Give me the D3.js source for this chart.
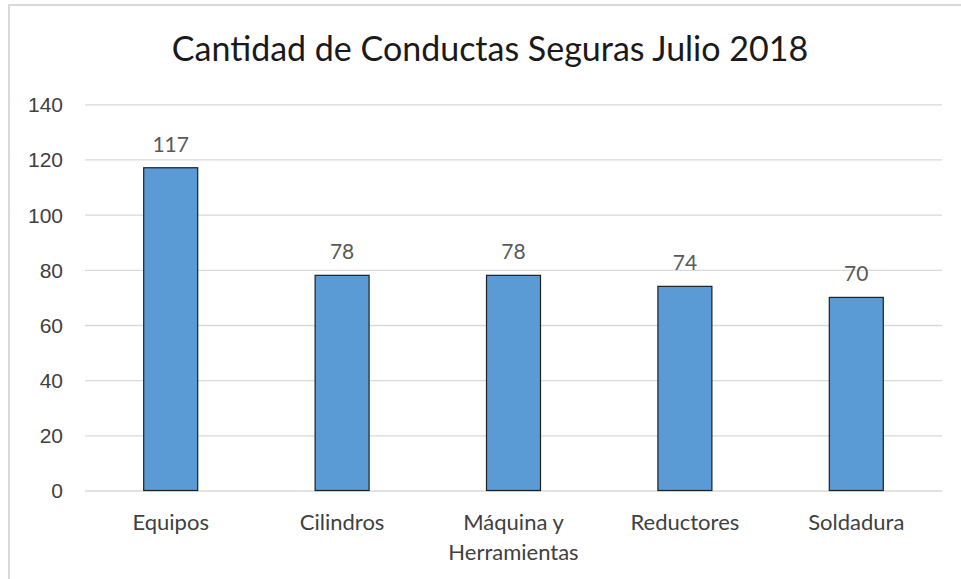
<!DOCTYPE html>
<html>
<head>
<meta charset="utf-8">
<script src="https://cdn.jsdelivr.net/npm/d3@7"></script>
<style>
  body { margin: 0; background: #fff; }
  svg { display: block; font-family: Lato, "Noto Sans", sans-serif; }
</style>
</head>
<body>
<div id="chart"></div>
<script>
// data
var categories = ["Equipos", "Cilindros", "Máquina y Herramientas", "Reductores", "Soldadura"];
var categoryLines = [["Equipos"], ["Cilindros"], ["Máquina y", "Herramientas"], ["Reductores"], ["Soldadura"]];
var values = [117, 78, 78, 74, 70];
var yTicks = [0, 20, 40, 60, 80, 100, 120, 140];
var title = "Cantidad de Conductas Seguras Julio 2018";

var svgWidth = 961, svgHeight = 579;
var plot = { left: 85, right: 942, top: 104.3, bottom: 490.5 };

var svg = d3.select("#chart").append("svg")
    .attr("width", svgWidth)
    .attr("height", svgHeight);

// outer chart border (cropped on right/bottom)
svg.append("rect")
    .attr("x", 9).attr("y", 5)
    .attr("width", 1000).attr("height", 1000)
    .attr("fill", "none")
    .attr("stroke", "#d9d9d9")
    .attr("stroke-width", 2);

var x = d3.scaleBand()
    .domain(categories)
    .range([plot.left, plot.right])
    .paddingInner(0.685)
    .paddingOuter(0.685 / 2);

var y = d3.scaleLinear()
    .domain([0, 140])
    .range([plot.bottom, plot.top]);

// y axis + gridlines
var yAxis = svg.append("g")
    .attr("transform", "translate(" + plot.left + ",0)")
    .call(d3.axisLeft(y).tickValues(yTicks).tickSize(-(plot.right - plot.left)).tickPadding(22));
yAxis.select(".domain").remove();
yAxis.selectAll("line").attr("stroke", "#d9d9d9").attr("stroke-width", 1.3);
yAxis.selectAll("text")
    .attr("fill", "#404040")
    .style("font-size", "21px")
    .attr("dy", "0.35em");

// bars
svg.append("g").selectAll("rect")
    .data(values)
    .enter()
    .append("rect")
    .attr("x", (d, i) => x(categories[i]))
    .attr("y", d => y(d))
    .attr("width", x.bandwidth())
    .attr("height", d => y(0) - y(d))
    .attr("fill", "#5b9bd5")
    .attr("stroke", "#1f1f1f")
    .attr("stroke-width", 1.2);

// value labels
svg.append("g").selectAll("text")
    .data(values)
    .enter()
    .append("text")
    .attr("x", (d, i) => x(categories[i]) + x.bandwidth() / 2)
    .attr("y", d => y(d) - 16)
    .attr("text-anchor", "middle")
    .attr("fill", "#595959")
    .style("font-size", "21px")
    .text(d => d);

// category labels
var cat = svg.append("g").selectAll("text")
    .data(categories)
    .enter()
    .append("text")
    .attr("x", d => x(d) + x.bandwidth() / 2)
    .attr("y", 530)
    .attr("text-anchor", "middle")
    .attr("fill", "#404040")
    .style("font-size", "22px");
cat.each(function(d, i) {
    var t = d3.select(this);
    categoryLines[i].forEach(function(line, j) {
        t.append("tspan")
            .attr("x", x(d) + x.bandwidth() / 2)
            .attr("y", 530 + j * 30)
            .text(line);
    });
});

// title
svg.append("text")
    .attr("x", 490)
    .attr("y", 61)
    .attr("text-anchor", "middle")
    .attr("fill", "#1a1a1a")
    .style("font-size", "34px")
    .text(title);
</script>
</body>
</html>
